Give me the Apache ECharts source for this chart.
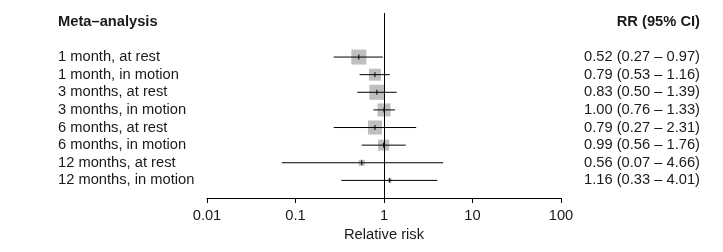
<!DOCTYPE html>
<html>
<head>
<meta charset="utf-8">
<script src="https://cdn.jsdelivr.net/npm/echarts@6/dist/echarts.min.js"></script>
<style>
  html, body { margin: 0; padding: 0; background: #fff; }
  #chart { width: 723px; height: 252px; }
</style>
</head>
<body>
<div id="chart"></div>
<script>
const labels = ['1 month, at rest', '1 month, in motion', '3 months, at rest', '3 months, in motion',
  '6 months, at rest', '6 months, in motion', '12 months, at rest', '12 months, in motion']
const rr = [0.52, 0.79, 0.83, 1.00, 0.79, 0.99, 0.56, 1.16]
const lower = [0.27, 0.53, 0.50, 0.76, 0.27, 0.56, 0.07, 0.33]
const upper = [0.97, 1.16, 1.39, 1.33, 2.31, 1.76, 4.66, 4.01]
// relative weight (%) -> box area
const weights = [19.9, 12.7, 19.9, 14.9, 17.3, 10.7, 3.2, 1.4]
const xTicks = [0.01, 0.1, 1, 10, 100]

const font = '"Liberation Sans", Arial, Helvetica, sans-serif'
const fs = 14.7
const txt = '#1a1a1a'

const rrText = rr.map((v, i) => v.toFixed(2) + ' (' + lower[i].toFixed(2) + ' \u2013 ' + upper[i].toFixed(2) + ')')
const rows = rr.map((v, i) => [v, i, lower[i], upper[i], weights[i]])

const chart = echarts.init(document.getElementById('chart'), null, { renderer: 'canvas' })

function renderRow(params, api) {
  const y = api.value(1)
  const est = api.coord([api.value(0), y])
  const lo = api.coord([api.value(2), y])
  const hi = api.coord([api.value(3), y])
  const s = Math.sqrt(api.value(4)) * 3.37
  return {
    type: 'group',
    children: [
      { type: 'rect', shape: { x: est[0] - s / 2, y: est[1] - s / 2, width: s, height: s },
        style: { fill: '#bfbfbf' } },
      { type: 'line', shape: { x1: lo[0], y1: lo[1], x2: hi[0], y2: hi[1] },
        style: { stroke: '#000', lineWidth: 1 } },
      { type: 'line', shape: { x1: est[0], y1: est[1] - 2.5, x2: est[0], y2: est[1] + 2.5 },
        style: { stroke: '#000', lineWidth: 1 } }
    ]
  }
}

const option = {
  animation: false,
  backgroundColor: '#fff',
  textStyle: { fontFamily: font },
  title: [
    { text: 'Meta\u2013analysis', left: 58, top: 14, padding: 0,
      textStyle: { fontFamily: font, fontSize: fs, fontWeight: 'bold', color: txt } },
    { text: 'RR (95% CI)', right: 23, top: 14, padding: 0,
      textStyle: { fontFamily: font, fontSize: fs, fontWeight: 'bold', color: txt } }
  ],
  grid: [
    { left: 207, right: 162, top: 13, bottom: 54 },
    { left: 207, right: 162, top: 48.2, height: 141 }
  ],
  xAxis: [
    {
      gridIndex: 0, type: 'log', logBase: 10, min: 0.01, max: 100,
      name: 'Relative risk', nameLocation: 'middle', nameGap: 28,
      nameTextStyle: { fontFamily: font, fontSize: fs, color: txt },
      axisLine: { onZero: false, lineStyle: { color: '#000', width: 1 } },
      axisTick: { length: 5, lineStyle: { color: '#000' } },
      axisLabel: { margin: 10, fontFamily: font, fontSize: fs, color: txt,
        formatter: v => String(xTicks.find(t => Math.abs(t - v) / t < 1e-6) ?? v) },
      splitLine: { show: false }
    },
    { gridIndex: 1, type: 'value', show: false }
  ],
  yAxis: [
    { gridIndex: 0, type: 'value', inverse: true, min: -2.5, max: 8, show: false },
    {
      gridIndex: 1, type: 'category', data: labels, inverse: true, position: 'left',
      axisLine: { show: false }, axisTick: { show: false },
      axisLabel: { interval: 0, align: 'left', margin: 149, fontFamily: font, fontSize: fs, color: txt }
    },
    {
      gridIndex: 1, type: 'category', data: rrText, inverse: true, position: 'right',
      axisLine: { show: false }, axisTick: { show: false },
      axisLabel: { interval: 0, align: 'right', margin: 139, fontFamily: font, fontSize: fs, color: txt }
    }
  ],
  series: [
    {
      type: 'custom',
      xAxisIndex: 0, yAxisIndex: 0,
      data: rows,
      encode: { x: [0, 2, 3], y: 1 },
      clip: false,
      renderItem: renderRow,
      markLine: {
        silent: true, symbol: 'none', label: { show: false },
        lineStyle: { color: '#000', width: 1, type: 'solid' },
        data: [{ xAxis: 1 }]
      }
    }
  ]
}

chart.setOption(option)
</script>
</body>
</html>
